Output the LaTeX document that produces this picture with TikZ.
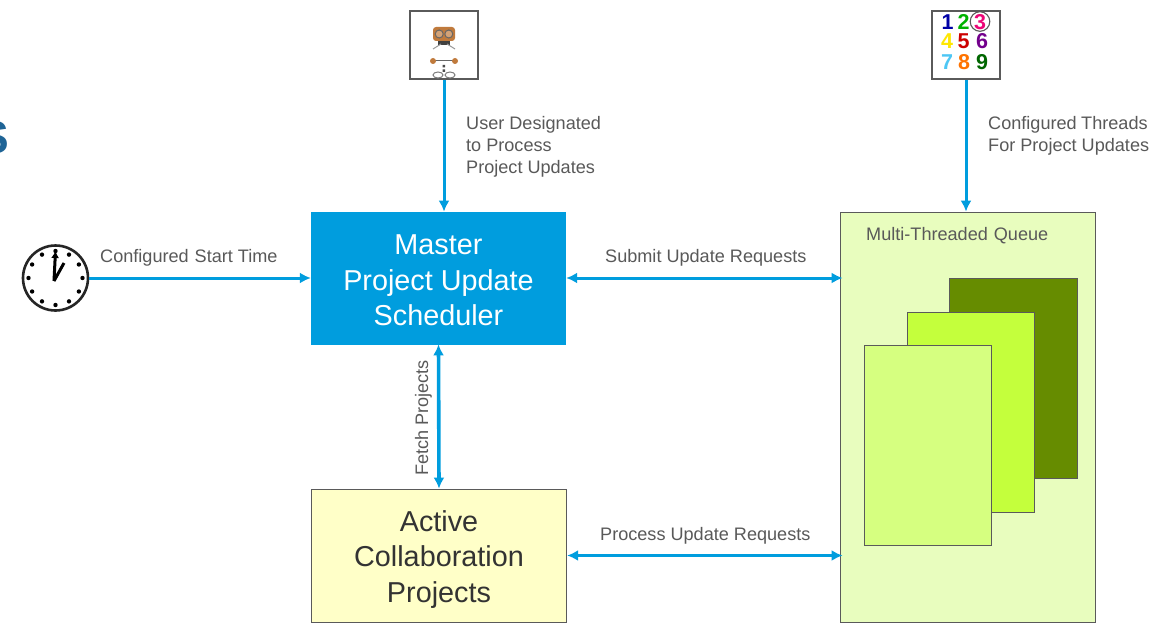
\documentclass[tikz,border=0pt]{standalone}
\usepackage{fontspec}
\setmainfont{Liberation Sans}
\usetikzlibrary{arrows.meta,calc}
\definecolor{bluec}{HTML}{009DDE}
\definecolor{txtc}{HTML}{595959}
\definecolor{bordc}{HTML}{5A5A5A}
\definecolor{yel}{HTML}{FFFFC8}
\definecolor{qbg}{HTML}{E8FDBE}
\definecolor{pgd}{HTML}{668C00}
\definecolor{pgm}{HTML}{C4FF3C}
\definecolor{pgl}{HTML}{D6FF80}
\definecolor{sblue}{HTML}{1F6496}
\definecolor{ic}{HTML}{C07A3C}
\tikzset{
  x=1pt,y=-1pt,
  conn/.style={draw=bluec,line width=3pt,-{Latex[length=11pt,width=11pt]}},
  conn2/.style={draw=bluec,line width=3pt,{Latex[length=11pt,width=11pt]}-{Latex[length=11pt,width=11pt]}},
  lab/.style={text=txtc,font=\fontsize{18.1}{22}\selectfont,align=left,inner sep=0pt},
  bigbox/.style={draw=bordc,line width=0.8pt,inner sep=0pt,align=center,font=\fontsize{28.8}{35.5}\selectfont},
  page/.style={draw=bordc,line width=0.8pt,minimum width=127.5pt,minimum height=200pt,inner sep=0pt},
  iconbox/.style={draw=bordc,fill=white,line width=1.2pt,minimum width=68pt,minimum height=68pt,inner sep=0pt},
  dig/.style={font=\bfseries\fontsize{21.5}{21.5}\selectfont,inner sep=0pt},
  tick/.style={circle,fill=black,inner sep=0pt,minimum size=4.4pt}
}
\begin{document}
\begin{tikzpicture}
\useasboundingbox (0,0) rectangle (1156,623);
\fill[white] (0,0) rectangle (1156,623);
\node[text=sblue,font=\bfseries\fontsize{46}{46}\selectfont,anchor=east,inner sep=0pt] (s) at (9,137.5) {S};
% boxes
\node[bigbox,fill=bluec,text=white,minimum width=254.5pt,minimum height=132pt,draw=bluec] (master) at (438.5,278) {\rule{0pt}{25pt}Master\\Project Update\\Scheduler};
\node[bigbox,fill=yel,text=black!80,minimum width=255.5pt,minimum height=133pt] (active) at (439,555.5) {\rule{0pt}{28pt}Active\\Collaboration\\Projects};
\node[draw=bordc,line width=0.8pt,fill=qbg,minimum width=255pt,minimum height=410pt,inner sep=0pt] (queue) at (967.5,417) {};
\node[lab,anchor=west] (qt) at (866,236) {Multi-Threaded\hspace{6pt}Queue};
\node[page,fill=pgd] (p1) at (1013.5,378) {};
\node[page,fill=pgm] (p2) at (971,412) {};
\node[page,fill=pgl] (p3) at (928,445) {};
% user icon
\node[iconbox] (user) at (444,45) {};
\fill[ic,rounded corners=3pt] (433,27) rectangle (455,41);
\draw[black!60,line width=1pt,fill=ic!70] (439.2,34) circle (4pt) (448.8,34) circle (4pt);
\fill[black!75] (438,41) rectangle (450,45);
\draw[black!40,line width=1pt] (433,49) -- (441,44) (455,49) -- (447,44);
\draw[black!60,line width=1pt] (433,61) -- (455,61);
\fill[ic] (433,61) circle (3pt) (455,61) circle (3pt);
\fill[black!70] (442.7,65) rectangle (445,67.5) (442.7,69.5) rectangle (445,72);
\draw[black!50,line width=1pt] (438,75) ellipse (5pt and 3pt) (450,75) ellipse (5pt and 3pt);
% numbers icon
\node[iconbox] (nums) at (966,45) {};
\node[dig,text=blue!65!black] (n1) at (947.5,22) {1};
\node[dig,text=green!70!black] (n2) at (963.5,22) {2};
\node[dig,text=magenta!80!red] (n3) at (980,22) {3};
\node[dig,text=yellow!90!orange] (n4) at (947,41) {4};
\node[dig,text=red!80!black] (n5) at (963.5,41) {5};
\node[dig,text=violet!90!blue] (n6) at (982,41) {6};
\node[dig,text=cyan!70!white] (n7) at (947,62) {7};
\node[dig,text=orange!90!red] (n8) at (964,62) {8};
\node[dig,text=green!40!black] (n9) at (982,62) {9};
\draw[black!65,line width=1.1pt] (980,21.5) circle (9.8pt);
% clock
\node[circle,draw=black!85,line width=2.6pt,fill=white,minimum size=65pt,inner sep=0pt] (clock) at (55.5,278) {};
\foreach \a in {0,30,...,330}{\node[tick] at ($(55.5,278)+(\a:27pt)$) {};}
\draw[black,line width=3pt,-{Latex[length=7pt,width=8pt]}] (54,281) -- (55.5,251);
\draw[black,line width=3pt] (54,281) -- (64,263);
% connectors
\draw[conn] (clock.east) -- (master.west);
\draw[conn] (user.south) -- (user.south |- master.north);
\draw[conn] (nums.south) -- (nums.south |- queue.north);
\draw[conn2,shorten >=-3pt] (master.east) -- (master.east -| queue.west);
\draw[conn2,shorten >=-3pt] (active.east) -- (active.east -| queue.west);
\draw[conn2,line width=3.6pt] (master.south) -- (active.north);
% labels
\node[lab,anchor=west] (l1) at (100,258) {Configured\hspace{6pt}Start Time};
\node[lab,anchor=north west] (l2) at (466,116.5) {User Designated\\to Process\\Project Updates};
\node[lab,anchor=north west] (l3) at (988,116.5) {Configured\hspace{4.5pt}Threads\\For Project Updates};
\node[lab,anchor=west] (l4) at (605,258) {Submit Update Requests};
\node[lab,anchor=west] (l5) at (600,536) {Process Update Requests};
\node[lab,rotate=90,anchor=center] (l6) at (423.5,418) {Fetch Projects};
\end{tikzpicture}
\end{document}
